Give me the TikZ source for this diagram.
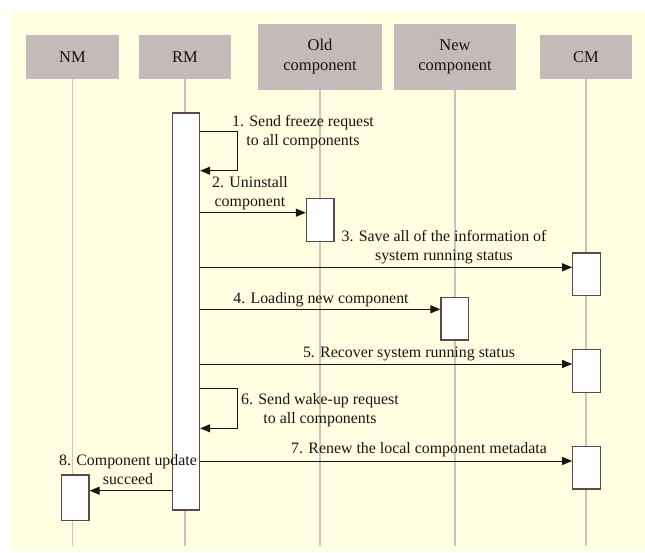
\documentclass[tikz,border=0pt]{standalone}
\usepackage{fontspec}
\setmainfont{Liberation Serif}
\usetikzlibrary{arrows.meta}
\definecolor{panel}{RGB}{255,255,225}
\definecolor{headfill}{RGB}{196,186,186}
\definecolor{lifeln}{RGB}{204,194,194}
\definecolor{actborder}{RGB}{92,72,72}
\definecolor{ink}{RGB}{25,20,20}
\begin{document}
\begin{tikzpicture}[x=1pt,y=-1pt,
  head/.style={fill=headfill, draw=none, text=ink, align=center, inner sep=0pt,
    font=\fontsize{16.5}{20}\selectfont},
  act/.style={draw=actborder, line width=1.2pt, fill=white, minimum width=27.5pt,
    inner sep=0pt, anchor=north},
  life/.style={draw=lifeln, line width=1.2pt},
  msg/.style={draw=ink, line width=1pt, -{Triangle[length=10pt,width=8pt]}},
  lbl/.style={text=ink, align=center, inner sep=0pt,
    font=\fontsize{15.9}{19}\selectfont}]

% canvas and panel
\useasboundingbox (0,0) rectangle (645,552);
\fill[white] (0,0) rectangle (645,552);
\fill[panel] (12,11) rectangle (645,552);

% participants
\node[head, minimum width=93pt,  minimum height=44pt] (nm)  at (72.5,57) {NM};
\node[head, minimum width=92pt,  minimum height=44pt] (rm)  at (185,57)  {RM};
\node[head, minimum width=124pt, minimum height=66pt] (old) at (320,57)  {Old\\component};
\node[head, minimum width=122pt, minimum height=66pt] (new) at (455,57)  {New\\component};
\node[head, minimum width=92pt,  minimum height=44pt] (cm)  at (586,57)  {CM};

% lifelines
\coordinate (bottom) at (0,546);
\foreach \p in {nm,rm,old,new,cm}
  \draw[life] (\p.south) -- (\p.south |- bottom);

% activation bars
\node[act, minimum height=397pt]  (rmact) at (185.85,112.3) {};
\node[act, minimum height=43pt]   (old1)  at (320.2,197.7) {};
\node[act, minimum height=42.7pt] (cm1)   at (586.5,252.3) {};
\node[act, minimum height=42.6pt] (new1)  at (454.7,296.7) {};
\node[act, minimum height=42.7pt] (cm2)   at (586.5,349)   {};
\node[act, minimum height=42.6pt] (cm3)   at (586.5,445.7) {};
\node[act, minimum height=45.7pt] (nm1)   at (75.3,474.3)  {};

% message heights
\coordinate (m2) at (0,212.7);
\coordinate (m3) at (0,267.3);
\coordinate (m4) at (0,309.3);
\coordinate (m5) at (0,364);
\coordinate (m7) at (0,461);
\coordinate (m8) at (0,490.7);

% self messages on RM
\coordinate (l1a) at (237.7,131.7);
\coordinate (l1b) at (237.7,170.7);
\draw[msg] (rmact.east |- l1a) -- (l1a) -- (l1b) -- (rmact.east |- l1b);
\coordinate (l6a) at (237.7,388.3);
\coordinate (l6b) at (237.7,428.3);
\draw[msg] (rmact.east |- l6a) -- (l6a) -- (l6b) -- (rmact.east |- l6b);

% messages
\draw[msg] (rmact.east |- m2) -- (old1.west |- m2);
\draw[msg] (rmact.east |- m3) -- (cm1.west |- m3);
\draw[msg] (rmact.east |- m4) -- (new1.west |- m4);
\draw[msg] (rmact.east |- m5) -- (cm2.west |- m5);
\draw[msg] (rmact.east |- m7) -- (cm3.west |- m7);
\draw[msg] (rmact.west |- m8) -- (nm1.east |- m8);

% message labels
\node[lbl] (t1) at (303,132.5) {1. Send freeze request\\to all components};
\node[lbl] (t2) at (250,193.5) {2. Uninstall\\component};
\node[lbl] (t3) at (444,247.5) {3. Save all of the information of\\system running status};
\node[lbl] (t4) at (321,300)   {4. Loading new component};
\node[lbl] (t5) at (409,354)   {5. Recover system running status};
\node[lbl] (t6) at (320,409.7) {6. Send wake-up request\\to all components};
\node[lbl] (t7) at (419,449.3) {7. Renew the local component metadata};
\node[lbl] (t8) at (128,470)   {8. Component update\\succeed};
\end{tikzpicture}
\end{document}
